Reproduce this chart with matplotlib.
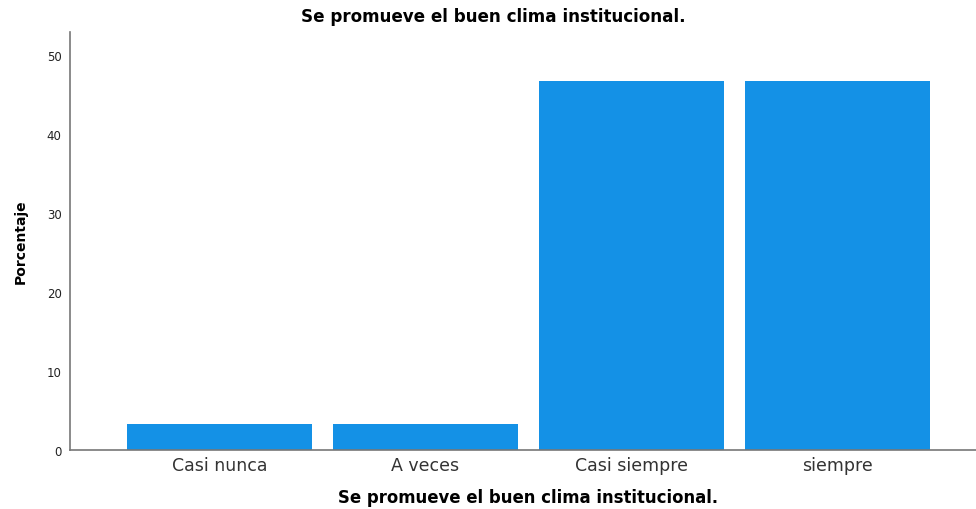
import matplotlib
matplotlib.use("Agg")
import matplotlib.pyplot as plt

categories = ["Casi nunca", "A veces", "Casi siempre", "siempre"]
percentages = [3.33, 3.33, 46.67, 46.67]
yticks = [0, 10, 20, 30, 40, 50]
title = "Se promueve el buen clima institucional."

fig = plt.figure(figsize=(9.76, 5.10), dpi=100)
ax = fig.add_axes([70/976, 59/510, 906/976, 418/510])
x = list(range(len(categories)))
ax.bar(x, percentages, width=0.898, color="#1491E6", edgecolor="none")
ax.set_xlim(-0.7257, 3.672)
ax.set_ylim(0, 52.9)
ax.set_xticks(x)
ax.set_xticklabels(categories, fontsize=12.5, color="#333333", family="DejaVu Sans")
ax.set_yticks(yticks)
ax.set_yticklabels([str(t) for t in yticks], fontsize=8.5, color="#222222")
ax.tick_params(axis="y", length=0, pad=6)
ax.tick_params(axis="x", length=0, pad=4)
for s in ["top", "right"]:
    ax.spines[s].set_visible(False)
for s in ["left", "bottom"]:
    ax.spines[s].set_color("#777777")
    ax.spines[s].set_linewidth(1.2)
fig.text(493.5/976, 1 - 17/510, title, ha="center", va="center", fontsize=12.1, fontweight="bold")
ax.set_xlabel(title, fontsize=11.9, fontweight="bold", labelpad=9)
ax.xaxis.set_label_coords((528 - 70)/906, -38/418)
ax.set_ylabel("Porcentaje", fontsize=10, fontweight="bold", family=["Liberation Sans Narrow", "DejaVu Sans"], labelpad=14)
fig.savefig("out.png", dpi=100)
